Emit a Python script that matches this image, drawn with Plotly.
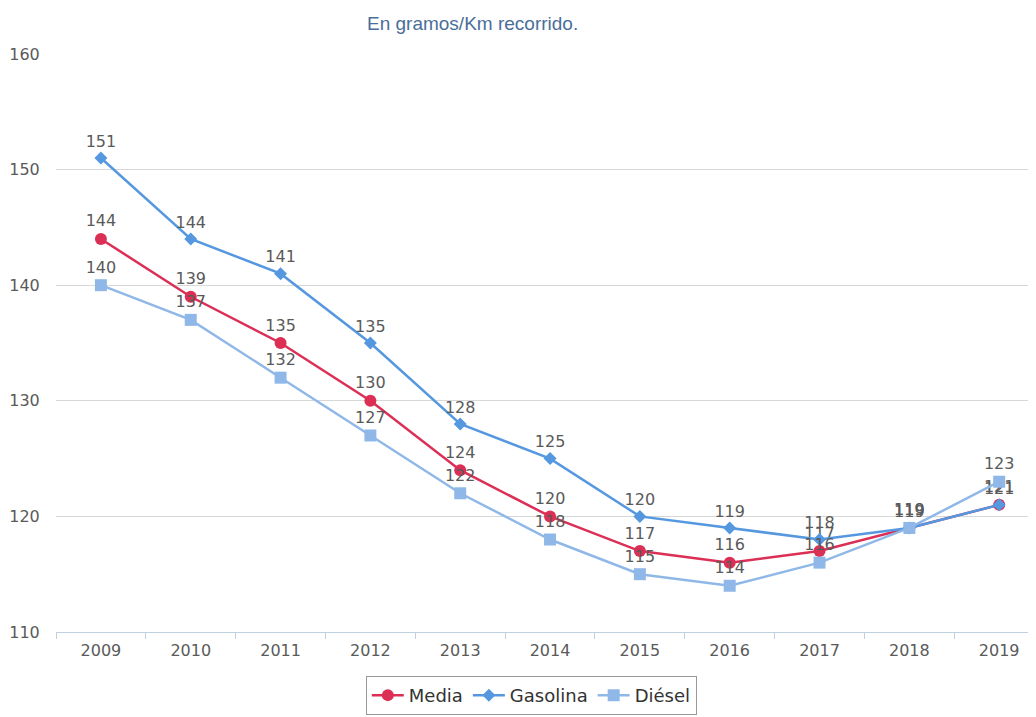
import plotly.graph_objects as go

years = ["2009", "2010", "2011", "2012", "2013", "2014", "2015", "2016", "2017", "2018", "2019"]
media = [144, 139, 135, 130, 124, 120, 117, 116, 117, 119, 121]
gasolina = [151, 144, 141, 135, 128, 125, 120, 119, 118, 119, 121]
diesel = [140, 137, 132, 127, 122, 118, 115, 114, 116, 119, 123]

FONT = "DejaVu Sans"
fig = go.Figure()

series = [
    ("Media", media, "#dc2f55", "circle", 12),
    ("Gasolina", gasolina, "#5598e0", "diamond", 10),
    ("Diésel", diesel, "#8fb8e8", "square", 12),
]
for name, vals, color, sym, size in series:
    fig.add_trace(go.Scatter(
        x=years, y=vals, name=name, mode="lines+markers+text",
        line=dict(color=color, width=2.5),
        marker=dict(color=color, symbol=sym, size=size),
        text=[str(v) for v in vals], textposition="top center",
        textfont=dict(family=FONT, size=16, color="#5a5a5a"),
        cliponaxis=False,
    ))

fig.add_annotation(
    text="En gramos/Km recorrido.", xref="paper", yref="paper",
    x=0.425, y=1.052, xanchor="center", yanchor="middle", showarrow=False,
    font=dict(family="Liberation Sans", size=19, color="#4a6e9a"),
)

# page body has an 8px margin, so the figure is offset by (8, 8)
fig.update_layout(
    width=1028, height=709,
    margin=dict(l=48, r=0, t=46, b=85),
    paper_bgcolor="white", plot_bgcolor="white",
    showlegend=True,
    legend=dict(
        orientation="h", x=0.485, xanchor="center", y=-0.076, yanchor="top",
        bordercolor="#999999", borderwidth=1, bgcolor="white",
        font=dict(family=FONT, size=18, color="#333333"),
        itemwidth=32,
    ),
    xaxis=dict(
        type="category", range=[-0.5, 10.41], automargin=False,
        showgrid=False, showline=True, linecolor="#c0d0e0", linewidth=1,
        ticks="outside", tickson="boundaries", ticklen=6, tickcolor="#c0d0e0",
        ticklabelstandoff=4,
        tickfont=dict(family=FONT, size=16, color="#5a5a5a"),
        zeroline=False,
    ),
    yaxis=dict(
        range=[110, 160], dtick=10, showgrid=True, gridcolor="#d8d8d8",
        gridwidth=1, zeroline=False, showline=False, automargin=False,
        ticks="outside", ticklen=12, tickcolor="rgba(0,0,0,0)",
        tickfont=dict(family=FONT, size=16, color="#5a5a5a"),
    ),
)

fig.write_html("out.html")
